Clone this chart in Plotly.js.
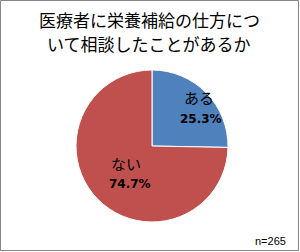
<!DOCTYPE html>
<html><head><meta charset="utf-8">
<script src="https://cdn.plot.ly/plotly-3.0.1.min.js"></script>
<style>html,body{margin:0;padding:0;background:#fff}#c{width:300px;height:252px}</style>
</head><body><div id="c"></div>
<script>
const categories = ["ある", "ない"];
const values = [25.3, 74.7];
const colors = ["#4F81BD", "#C0504D"];
const titleLines = ["医療者に栄養補給の仕方につ", "いて相談したことがあるか"];
const noteText = "n=265";

const labelPos = [{x: 199, y: 98, px: 201, py: 119}, {x: 126, y: 163, px: 130, py: 184}];
const annotations = [];
categories.forEach((c, i) => {
  const p = labelPos[i];
  annotations.push({xref: "paper", yref: "paper", x: p.x / 300, y: 1 - p.y / 252, text: c, showarrow: false,
    xanchor: "center", yanchor: "middle", font: {family: "Noto Sans CJK JP", size: 15, color: "#000"}});
  annotations.push({xref: "paper", yref: "paper", x: p.px / 300, y: 1 - p.py / 252, text: "<b>" + values[i].toFixed(1) + "%</b>", showarrow: false,
    xanchor: "center", yanchor: "middle", font: {family: "DejaVu Sans", size: 12, color: "#000"}});
});
annotations.push({xref: "paper", yref: "paper", x: 288 / 300, y: 1 - 241 / 252, text: noteText, showarrow: false,
  xanchor: "right", yanchor: "middle", font: {family: "Liberation Sans", size: 11, color: "#000"}});
titleLines.forEach((t, i) => {
  annotations.push({xref: "paper", yref: "paper", x: 149 / 300, y: 1 - (20 + i * 23) / 252, text: t, showarrow: false,
    xanchor: "center", yanchor: "middle", font: {family: "Noto Sans CJK JP", size: 17, color: "#000"}});
});

Plotly.newPlot("c", [{
  type: "pie", labels: categories, values: values, sort: false, direction: "clockwise", rotation: 0,
  marker: {colors: colors, line: {color: "#ffffff", width: 1}},
  textinfo: "none", hoverinfo: "none",
  domain: {x: [76 / 300, 228 / 300], y: [1 - 222 / 252, 1 - 70 / 252]}
}], {
  width: 300, height: 252, margin: {l: 0, r: 0, t: 0, b: 0}, showlegend: false,
  paper_bgcolor: "#fff", annotations: annotations,
  shapes: [{type: "rect", xref: "paper", yref: "paper", x0: 0.5 / 300, x1: 298.5 / 300, y0: 1 - 250.5 / 252, y1: 1 - 0.5 / 252,
    line: {color: "#868686", width: 1}}]
}, {staticPlot: true});
</script></body></html>
